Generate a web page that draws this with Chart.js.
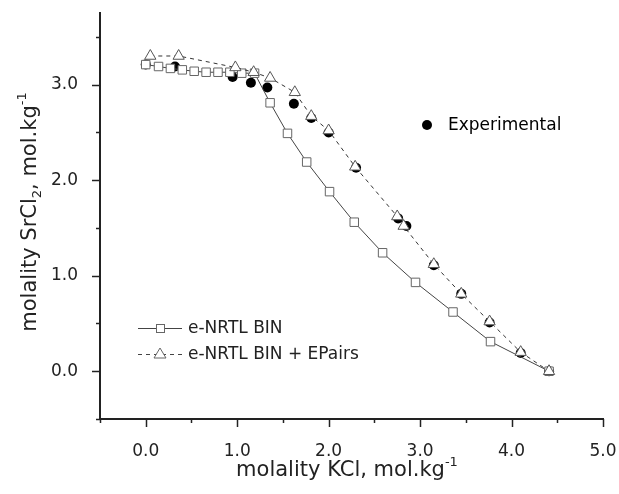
<!DOCTYPE html>
<html lang="en">
<head>
<meta charset="UTF-8">
<title>SrCl2 - KCl</title>
<script src="https://cdn.jsdelivr.net/npm/chart.js"></script>
<style>
  html, body { margin: 0; padding: 0; background: #fff; }
</style>
</head>
<body>
<canvas id="chart" width="619" height="494"></canvas>
<script>
// e-NRTL BIN (open squares, solid line)
const binX = [0.00, 0.14, 0.27, 0.40, 0.53, 0.66, 0.79, 0.92, 1.05, 1.19, 1.36, 1.55, 1.76, 2.01, 2.28, 2.59, 2.95, 3.36, 3.77, 4.41];
const binY = [3.21, 3.19, 3.17, 3.155, 3.14, 3.13, 3.13, 3.13, 3.12, 3.12, 2.81, 2.49, 2.19, 1.88, 1.56, 1.24, 0.93, 0.62, 0.31, 0.00];

// e-NRTL BIN + EPairs (open triangles, dashed line)
const epX = [0.05, 0.36, 0.98, 1.18, 1.36, 1.63, 1.81, 2.00, 2.29, 2.75, 2.82, 3.15, 3.45, 3.76, 4.10, 4.41];
const epY = [3.30, 3.30, 3.18, 3.13, 3.07, 2.92, 2.67, 2.52, 2.14, 1.62, 1.52, 1.12, 0.81, 0.52, 0.20, 0.00];

// Experimental (filled dots)
const expX = [0.00, 0.32, 0.95, 1.15, 1.33, 1.62, 1.81, 2.00, 2.30, 2.76, 2.85, 3.15, 3.45, 3.76, 4.10, 4.41];
const expY = [3.21, 3.19, 3.08, 3.02, 2.97, 2.80, 2.65, 2.50, 2.13, 1.60, 1.52, 1.11, 0.81, 0.51, 0.19, 0.00];

const xMin = -0.5, xMax = 5.0;
const yMin = -0.5, yMax = 3.75;
const tickStep = 0.5;

const FONT = 'DejaVu Sans';
const INK = '#222';

function pts(xs, ys) {
    return xs.map((v, i) => ({ x: v, y: ys[i] }));
}

// text with sub/superscripts, centred on (0,0) of the current transform
function richText(ctx, parts, size) {
    let w = 0;
    parts.forEach(p => {
        ctx.font = (p.s ? size * 0.62 : size) + 'px "' + FONT + '"';
        p.w = ctx.measureText(p.t).width;
        w += p.w;
    });
    let x = -w / 2;
    parts.forEach(p => {
        ctx.font = (p.s ? size * 0.62 : size) + 'px "' + FONT + '"';
        ctx.fillText(p.t, x, p.s === 'sub' ? size * 0.3 : (p.s === 'sup' ? -size * 0.38 : 0));
        x += p.w;
    });
}

const decor = {
    id: 'decor',
    afterDraw(chart) {
        const ctx = chart.ctx;
        const x = chart.scales.x, y = chart.scales.y;
        ctx.save();
        ctx.strokeStyle = INK;
        ctx.lineWidth = 1.5;
        // tick marks, outward, minor shorter
        x.ticks.forEach(t => {
            const px = Math.round(x.getPixelForValue(t.value)) + 0.5;
            const len = Number.isInteger(t.value) ? 8 : 4;
            ctx.beginPath(); ctx.moveTo(px, y.bottom); ctx.lineTo(px, y.bottom + len); ctx.stroke();
        });
        y.ticks.forEach(t => {
            const py = Math.round(y.getPixelForValue(t.value)) + 0.5;
            const len = Number.isInteger(t.value) ? 8 : 4;
            ctx.beginPath(); ctx.moveTo(x.left, py); ctx.lineTo(x.left - len, py); ctx.stroke();
        });

        // axis titles
        ctx.fillStyle = INK;
        ctx.textBaseline = 'middle';
        ctx.textAlign = 'left';
        ctx.save();
        ctx.translate(347, 471);
        richText(ctx, [{ t: 'molality KCl, mol.kg' }, { t: '-1', s: 'sup' }], 21);
        ctx.restore();
        ctx.save();
        ctx.translate(31, 212);
        ctx.rotate(-Math.PI / 2);
        richText(ctx, [{ t: 'molality SrCl' }, { t: '2', s: 'sub' }, { t: ', mol.kg' }, { t: '-1', s: 'sup' }], 21);
        ctx.restore();

        // legends
        ctx.font = '17px "' + FONT + '"';
        ctx.fillStyle = '#000';
        ctx.beginPath(); ctx.arc(427, 125, 5, 0, Math.PI * 2); ctx.fill();
        ctx.fillText('Experimental', 448, 126);

        ctx.fillStyle = INK;
        ctx.strokeStyle = '#444';
        ctx.lineWidth = 1;
        ctx.beginPath(); ctx.moveTo(138, 328.5); ctx.lineTo(182, 328.5); ctx.stroke();
        ctx.fillStyle = '#fff';
        ctx.strokeStyle = '#666';
        ctx.fillRect(156, 324, 8, 8); ctx.strokeRect(156.5, 324.5, 8, 8);
        ctx.fillStyle = INK;
        ctx.fillText('e-NRTL BIN', 188, 329);

        ctx.strokeStyle = '#444';
        ctx.setLineDash([4, 4]);
        ctx.beginPath(); ctx.moveTo(138, 354.5); ctx.lineTo(182, 354.5); ctx.stroke();
        ctx.setLineDash([]);
        ctx.strokeStyle = '#666';
        ctx.fillStyle = '#fff';
        ctx.beginPath(); ctx.moveTo(160, 348); ctx.lineTo(166, 358); ctx.lineTo(154, 358); ctx.closePath();
        ctx.fill(); ctx.stroke();
        ctx.fillStyle = INK;
        ctx.fillText('e-NRTL BIN + EPairs', 188, 355);
        ctx.restore();
    }
};

const ctx = document.getElementById('chart').getContext('2d');
new Chart(ctx, {
    type: 'scatter',
    data: {
        datasets: [
            {
                label: 'Experimental',
                data: pts(expX, expY),
                order: 3,
                showLine: false,
                pointStyle: 'circle',
                pointRadius: 5,
                pointBackgroundColor: '#000',
                pointBorderColor: '#000',
                pointBorderWidth: 0
            },
            {
                label: 'e-NRTL BIN',
                data: pts(binX, binY),
                order: 2,
                showLine: true,
                borderColor: '#444',
                borderWidth: 1,
                pointStyle: 'rect',
                pointRadius: 6,
                pointBorderWidth: 1,
                pointBorderColor: '#666',
                pointBackgroundColor: '#fff'
            },
            {
                label: 'e-NRTL BIN + EPairs',
                data: pts(epX, epY),
                order: 1,
                showLine: true,
                borderColor: '#333',
                borderWidth: 1,
                borderDash: [4, 4],
                pointStyle: 'triangle',
                pointRadius: 6.5,
                pointBorderWidth: 1,
                pointBorderColor: '#555',
                pointBackgroundColor: '#fff'
            }
        ]
    },
    options: {
        responsive: false,
        animation: false,
        devicePixelRatio: 1,
        layout: { padding: { left: 0, top: 13, right: 16, bottom: 0 } },
        plugins: {
            legend: { display: false },
            tooltip: { enabled: false }
        },
        scales: {
            x: {
                type: 'linear',
                min: xMin,
                max: xMax,
                afterFit(s) { s.height = 75; s.paddingLeft = 0; s.paddingRight = 0; },
                grid: { display: false },
                border: { color: INK, width: 2 },
                ticks: {
                    stepSize: tickStep,
                    includeBounds: false,
                    autoSkip: false,
                    maxRotation: 0,
                    padding: 14,
                    color: INK,
                    font: { family: FONT, size: 17 },
                    callback: v => Number.isInteger(v) ? v.toFixed(1) : ''
                }
            },
            y: {
                type: 'linear',
                min: yMin,
                max: yMax,
                afterFit(s) { s.width = 100; s.paddingTop = 0; s.paddingBottom = 0; },
                grid: { display: false },
                border: { color: INK, width: 2 },
                ticks: {
                    stepSize: tickStep,
                    includeBounds: false,
                    autoSkip: false,
                    padding: 14,
                    color: INK,
                    font: { family: FONT, size: 17 },
                    callback: v => Number.isInteger(v) ? v.toFixed(1) : ''
                }
            }
        }
    },
    plugins: [decor]
});
</script>
</body>
</html>
